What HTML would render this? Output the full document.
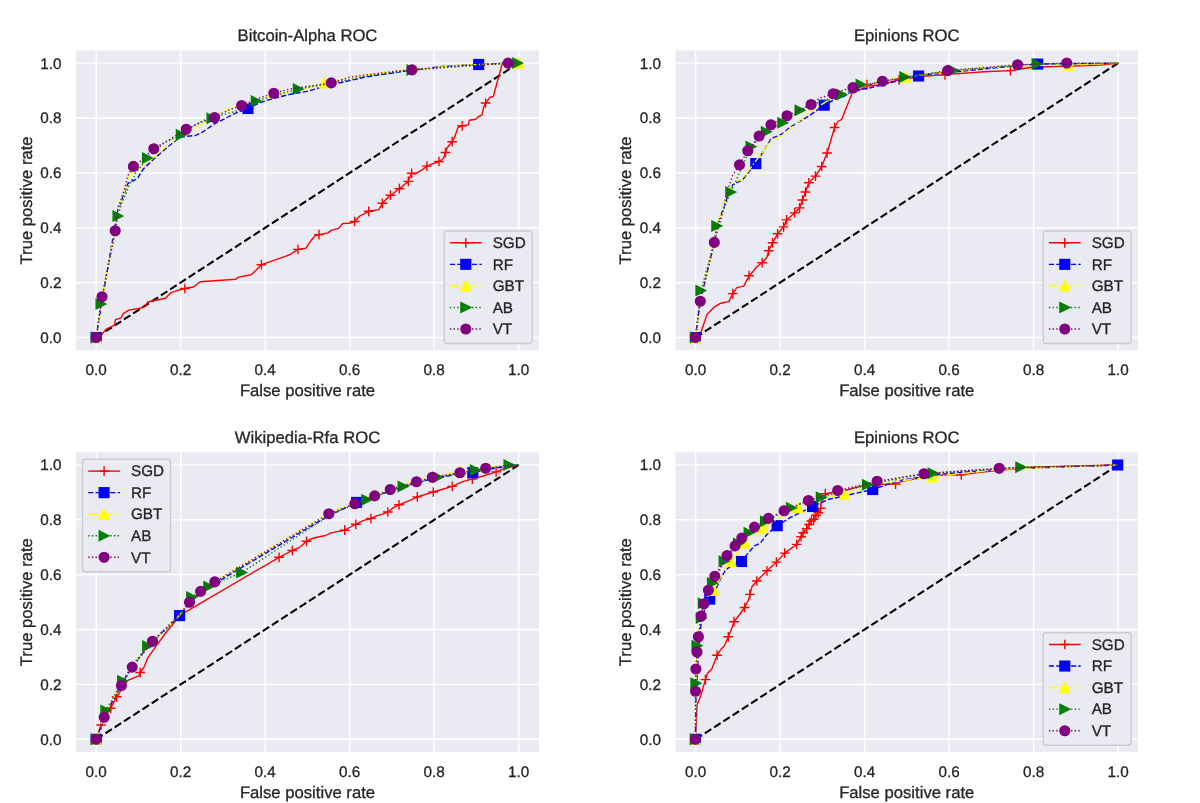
<!DOCTYPE html>
<html><head><meta charset="utf-8"><title>ROC curves</title>
<style>html,body{margin:0;padding:0;background:#fff;width:1200px;height:803px;overflow:hidden}svg{display:block;will-change:transform}text{font-family:"Liberation Sans", sans-serif;text-rendering:geometricPrecision;stroke:#262626;stroke-width:0.3px}</style>
</head><body>
<svg width="1200" height="803" viewBox="0 0 1200 803" font-family='"Liberation Sans", sans-serif'>
<rect width="1200" height="803" fill="#FFFFFF"/>
<defs>
<clipPath id="c1"><rect x="76.0" y="50.5" width="463" height="299.8"/></clipPath>
<clipPath id="c2"><rect x="675.5" y="50.5" width="462.5" height="299.8"/></clipPath>
<clipPath id="c3"><rect x="76.0" y="452.3" width="463" height="299.7"/></clipPath>
<clipPath id="c4"><rect x="675.5" y="452.3" width="462.5" height="299.7"/></clipPath>
</defs>
<rect x="76.0" y="50.5" width="463" height="299.8" fill="#EAEAF2"/>
<path d="M96.2 50.5V350.3M76 337.5H539M180.7 50.5V350.3M76 282.62H539M265.2 50.5V350.3M76 227.74H539M349.7 50.5V350.3M76 172.86H539M434.2 50.5V350.3M76 117.98H539M518.7 50.5V350.3M76 63.1H539" stroke="#FFFFFF" stroke-width="1.39" fill="none"/>
<text x="96.2" y="375.3" font-size="15.28" fill="#262626" text-anchor="middle">0.0</text>
<text x="61.6" y="342.9" font-size="15.28" fill="#262626" text-anchor="end">0.0</text>
<text x="180.7" y="375.3" font-size="15.28" fill="#262626" text-anchor="middle">0.2</text>
<text x="61.6" y="288.02" font-size="15.28" fill="#262626" text-anchor="end">0.2</text>
<text x="265.2" y="375.3" font-size="15.28" fill="#262626" text-anchor="middle">0.4</text>
<text x="61.6" y="233.14" font-size="15.28" fill="#262626" text-anchor="end">0.4</text>
<text x="349.7" y="375.3" font-size="15.28" fill="#262626" text-anchor="middle">0.6</text>
<text x="61.6" y="178.26" font-size="15.28" fill="#262626" text-anchor="end">0.6</text>
<text x="434.2" y="375.3" font-size="15.28" fill="#262626" text-anchor="middle">0.8</text>
<text x="61.6" y="123.38" font-size="15.28" fill="#262626" text-anchor="end">0.8</text>
<text x="518.7" y="375.3" font-size="15.28" fill="#262626" text-anchor="middle">1.0</text>
<text x="61.6" y="68.5" font-size="15.28" fill="#262626" text-anchor="end">1.0</text>
<text x="307.5" y="40.7" font-size="16.67" fill="#262626" text-anchor="middle">Bitcoin-Alpha ROC</text>
<text x="307.5" y="396.3" font-size="16.67" fill="#262626" text-anchor="middle">False positive rate</text>
<text transform="translate(31.8 200.4) rotate(-90)" x="0" y="0" font-size="16.67" fill="#262626" text-anchor="middle">True positive rate</text>
<g clip-path="url(#c1)">
<path d="M96.2 337.5L518.7 63.1" stroke="#000000" stroke-width="2.08" stroke-dasharray="7.7 3.33" fill="none"/>
<path d="M96.2 337.5L101 335.7L105.8 329.4L114.5 325.1L115.5 319.7L121.2 317.8L123.2 313.6L128.9 310.1L142.4 307.8L146.3 305.5L147.6 302L165.5 298.2L170.7 292.8L176.1 290.9L184.8 288.5L193.4 287L200.2 281.8L235.8 279.3L237.7 277.4L251.2 274.7L256 270.3L261.4 264.7L270.4 261.6L285.8 256.2L290 254.5L298 249.4L305.9 248.2L311.2 240.3L315.4 235.5L319 234.6L328.1 232.9L331.3 230.4L338.7 228.3L342.9 223.4L349.3 223.4L354.6 221.5L359.9 216L368.7 211.3L378.9 209.6L382.4 203.3L387.4 198L390.5 195.2L399.4 188.7L408.3 181.4L409.5 178L411.6 173.3L414.8 174.1L422.9 169.3L426.9 166.1L431 164.4L439 161.5L443.5 158.5L445.5 152.5L447 148L452.2 141.7L454.5 137.5L458 127.5L462.2 125.8L468.3 124.9L469.3 120.2L475.8 119.3L478.6 116.5L481.9 115.1L483.7 107.1L485.6 103L490 97.3L493.3 96.5L502.3 63.5L518.7 63.1" stroke="#FF0000" stroke-width="1.39" fill="none" stroke-linejoin="round"/>
<path d="M179.94 288.5H189.66M184.8 283.64V293.36" stroke="#FF0000" stroke-width="1.39" fill="none"/>
<path d="M256.54 264.7H266.26M261.4 259.84V269.56" stroke="#FF0000" stroke-width="1.39" fill="none"/>
<path d="M293.14 249.4H302.86M298 244.54V254.26" stroke="#FF0000" stroke-width="1.39" fill="none"/>
<path d="M314.14 234.6H323.86M319 229.74V239.46" stroke="#FF0000" stroke-width="1.39" fill="none"/>
<path d="M349.74 221.5H359.46M354.6 216.64V226.36" stroke="#FF0000" stroke-width="1.39" fill="none"/>
<path d="M363.84 211.3H373.56M368.7 206.44V216.16" stroke="#FF0000" stroke-width="1.39" fill="none"/>
<path d="M377.54 203.3H387.26M382.4 198.44V208.16" stroke="#FF0000" stroke-width="1.39" fill="none"/>
<path d="M385.64 195.2H395.36M390.5 190.34V200.06" stroke="#FF0000" stroke-width="1.39" fill="none"/>
<path d="M394.54 188.7H404.26M399.4 183.84V193.56" stroke="#FF0000" stroke-width="1.39" fill="none"/>
<path d="M403.44 181.4H413.16M408.3 176.54V186.26" stroke="#FF0000" stroke-width="1.39" fill="none"/>
<path d="M406.74 173.3H416.46M411.6 168.44V178.16" stroke="#FF0000" stroke-width="1.39" fill="none"/>
<path d="M422.04 166.1H431.76M426.9 161.24V170.96" stroke="#FF0000" stroke-width="1.39" fill="none"/>
<path d="M434.14 161.5H443.86M439 156.64V166.36" stroke="#FF0000" stroke-width="1.39" fill="none"/>
<path d="M440.64 152.5H450.36M445.5 147.64V157.36" stroke="#FF0000" stroke-width="1.39" fill="none"/>
<path d="M447.34 141.7H457.06M452.2 136.84V146.56" stroke="#FF0000" stroke-width="1.39" fill="none"/>
<path d="M457.34 125.8H467.06M462.2 120.94V130.66" stroke="#FF0000" stroke-width="1.39" fill="none"/>
<path d="M480.74 103H490.46M485.6 98.14V107.86" stroke="#FF0000" stroke-width="1.39" fill="none"/>
<path d="M96.2 337.5L104 290L111.7 244.6L117.9 209.8L124.1 193.6L127.8 183.6L131 181.1L134.1 180.5L137.8 178L143 169.3L155 158L167 147.5L179 137.8L186.5 136.3L195.5 135.5L203 131.8L215 123.5L227 117.5L236 113L248 108.5L260 102.5L275 98L290 94.3L307 91.4L326.3 85.8L365 77.1L403.7 71.3L442.3 66.4L478.7 64.5L500.3 63.5L518.7 63.1" stroke="#0000FF" stroke-width="1.39" fill="none" stroke-linejoin="round" stroke-dasharray="5.14 2.22"/>
<rect x="91.34" y="332.64" width="9.72" height="9.72" fill="#0000FF" stroke="#0000FF" stroke-width="1.39" stroke-linejoin="miter"/>
<rect x="243.14" y="103.64" width="9.72" height="9.72" fill="#0000FF" stroke="#0000FF" stroke-width="1.39" stroke-linejoin="miter"/>
<rect x="473.84" y="59.64" width="9.72" height="9.72" fill="#0000FF" stroke="#0000FF" stroke-width="1.39" stroke-linejoin="miter"/>
<path d="M96.2 337.5L104 292L111 249.6L119.1 204.8L124.1 192.3L128.5 175.5L131.6 173L137.8 170L144 165L155 156.5L170 143L185 134L200 125L215 116L230 108.5L245 104L260 99.5L275 95L290 91.3L307 88.6L324.4 82.9L365 75.1L412 69.3L461.7 65.1L518.7 63.1" stroke="#FFFF00" stroke-width="1.39" fill="none" stroke-linejoin="round" stroke-dasharray="8.9 2.22 1.39 2.22"/>
<path d="M96.2 332.64L91.34 342.36L101.06 342.36Z" fill="#FFFF00" stroke="#FFFF00" stroke-width="1.39" stroke-linejoin="miter"/>
<path d="M324.4 78.04L319.54 87.76L329.26 87.76Z" fill="#FFFF00" stroke="#FFFF00" stroke-width="1.39" stroke-linejoin="miter"/>
<path d="M518.7 58.24L513.84 67.96L523.56 67.96Z" fill="#FFFF00" stroke="#FFFF00" stroke-width="1.39" stroke-linejoin="miter"/>
<path d="M96.2 337.5L101 304L118 216L121.6 203.5L125.4 194.8L130.3 182.4L134.1 176.8L135.3 173L139.1 168.7L147.5 158L164 143L181.3 134.8L189.5 128L203 120.5L212 118.3L224 114.5L237.5 110.8L256.3 101L275 95.5L298.3 89L330 83.5L365 76.5L412 69.9L461.7 65.3L517.7 63.1" stroke="#008000" stroke-width="1.39" fill="none" stroke-linejoin="round" stroke-dasharray="1.39 2.29"/>
<path d="M101.06 337.5L91.34 332.64L91.34 342.36Z" fill="#008000" stroke="#008000" stroke-width="1.39" stroke-linejoin="miter"/>
<path d="M105.86 304L96.14 299.14L96.14 308.86Z" fill="#008000" stroke="#008000" stroke-width="1.39" stroke-linejoin="miter"/>
<path d="M122.86 216L113.14 211.14L113.14 220.86Z" fill="#008000" stroke="#008000" stroke-width="1.39" stroke-linejoin="miter"/>
<path d="M152.36 158L142.64 153.14L142.64 162.86Z" fill="#008000" stroke="#008000" stroke-width="1.39" stroke-linejoin="miter"/>
<path d="M186.16 134.8L176.44 129.94L176.44 139.66Z" fill="#008000" stroke="#008000" stroke-width="1.39" stroke-linejoin="miter"/>
<path d="M216.86 118.3L207.14 113.44L207.14 123.16Z" fill="#008000" stroke="#008000" stroke-width="1.39" stroke-linejoin="miter"/>
<path d="M261.16 101L251.44 96.14L251.44 105.86Z" fill="#008000" stroke="#008000" stroke-width="1.39" stroke-linejoin="miter"/>
<path d="M303.16 89L293.44 84.14L293.44 93.86Z" fill="#008000" stroke="#008000" stroke-width="1.39" stroke-linejoin="miter"/>
<path d="M416.86 69.9L407.14 65.04L407.14 74.76Z" fill="#008000" stroke="#008000" stroke-width="1.39" stroke-linejoin="miter"/>
<path d="M522.56 63.1L512.84 58.24L512.84 67.96Z" fill="#008000" stroke="#008000" stroke-width="1.39" stroke-linejoin="miter"/>
<path d="M96.2 337.5L102 296.8L115.2 230.8L117.9 207.3L121 199.8L125.4 186.1L127.6 176.2L129.7 172.4L133.4 166.4L139.1 162.5L153.8 148.7L170 139.3L186.2 129.2L200 122.8L214.6 117.5L227 110.8L241.6 105.5L257 98.8L273.8 93.2L290 89L331.2 82.9L350 77.2L373 74L397 71L412 69.9L508.1 63.1L518.7 63.1" stroke="#800080" stroke-width="1.39" fill="none" stroke-linejoin="round" stroke-dasharray="1.39 2.29"/>
<circle cx="96.2" cy="337.5" r="4.86" fill="#800080" stroke="#800080" stroke-width="1.39"/>
<circle cx="102" cy="296.8" r="4.86" fill="#800080" stroke="#800080" stroke-width="1.39"/>
<circle cx="115.2" cy="230.8" r="4.86" fill="#800080" stroke="#800080" stroke-width="1.39"/>
<circle cx="133.4" cy="166.4" r="4.86" fill="#800080" stroke="#800080" stroke-width="1.39"/>
<circle cx="153.8" cy="148.7" r="4.86" fill="#800080" stroke="#800080" stroke-width="1.39"/>
<circle cx="186.2" cy="129.2" r="4.86" fill="#800080" stroke="#800080" stroke-width="1.39"/>
<circle cx="214.6" cy="117.5" r="4.86" fill="#800080" stroke="#800080" stroke-width="1.39"/>
<circle cx="241.6" cy="105.5" r="4.86" fill="#800080" stroke="#800080" stroke-width="1.39"/>
<circle cx="273.8" cy="93.2" r="4.86" fill="#800080" stroke="#800080" stroke-width="1.39"/>
<circle cx="331.2" cy="82.9" r="4.86" fill="#800080" stroke="#800080" stroke-width="1.39"/>
<circle cx="412" cy="69.9" r="4.86" fill="#800080" stroke="#800080" stroke-width="1.39"/>
<circle cx="508.1" cy="63.1" r="4.86" fill="#800080" stroke="#800080" stroke-width="1.39"/>
</g>
<rect x="444.2" y="231" width="88" height="112.5" rx="3.06" ry="3.06" fill="#EAEAF2" fill-opacity="1" stroke="#CCCCCC" stroke-width="1.39"/>
<path d="M449.9 242.8H481.7" stroke="#FF0000" stroke-width="1.39" fill="none"/>
<path d="M460.94 242.8H470.66M465.8 237.94V247.66" stroke="#FF0000" stroke-width="1.39" fill="none"/>
<text x="492.7" y="248.05" font-size="15.28" fill="#262626">SGD</text>
<path d="M449.9 264.35H481.7" stroke="#0000FF" stroke-width="1.39" fill="none" stroke-dasharray="5.14 2.22"/>
<rect x="460.94" y="259.49" width="9.72" height="9.72" fill="#0000FF" stroke="#0000FF" stroke-width="1.39" stroke-linejoin="miter"/>
<text x="492.7" y="269.6" font-size="15.28" fill="#262626">RF</text>
<path d="M449.9 285.9H481.7" stroke="#FFFF00" stroke-width="1.39" fill="none" stroke-dasharray="8.9 2.22 1.39 2.22"/>
<path d="M465.8 281.04L460.94 290.76L470.66 290.76Z" fill="#FFFF00" stroke="#FFFF00" stroke-width="1.39" stroke-linejoin="miter"/>
<text x="492.7" y="291.15" font-size="15.28" fill="#262626">GBT</text>
<path d="M449.9 307.45H481.7" stroke="#008000" stroke-width="1.39" fill="none" stroke-dasharray="1.39 2.29"/>
<path d="M470.66 307.45L460.94 302.59L460.94 312.31Z" fill="#008000" stroke="#008000" stroke-width="1.39" stroke-linejoin="miter"/>
<text x="492.7" y="312.7" font-size="15.28" fill="#262626">AB</text>
<path d="M449.9 329H481.7" stroke="#800080" stroke-width="1.39" fill="none" stroke-dasharray="1.39 2.29"/>
<circle cx="465.8" cy="329" r="4.86" fill="#800080" stroke="#800080" stroke-width="1.39"/>
<text x="492.7" y="334.25" font-size="15.28" fill="#262626">VT</text>
<rect x="675.5" y="50.5" width="462.5" height="299.8" fill="#EAEAF2"/>
<path d="M695.6 50.5V350.3M675.5 337.5H1138M780.1 50.5V350.3M675.5 282.62H1138M864.6 50.5V350.3M675.5 227.74H1138M949.1 50.5V350.3M675.5 172.86H1138M1033.6 50.5V350.3M675.5 117.98H1138M1118.1 50.5V350.3M675.5 63.1H1138" stroke="#FFFFFF" stroke-width="1.39" fill="none"/>
<text x="695.6" y="375.3" font-size="15.28" fill="#262626" text-anchor="middle">0.0</text>
<text x="661.1" y="342.9" font-size="15.28" fill="#262626" text-anchor="end">0.0</text>
<text x="780.1" y="375.3" font-size="15.28" fill="#262626" text-anchor="middle">0.2</text>
<text x="661.1" y="288.02" font-size="15.28" fill="#262626" text-anchor="end">0.2</text>
<text x="864.6" y="375.3" font-size="15.28" fill="#262626" text-anchor="middle">0.4</text>
<text x="661.1" y="233.14" font-size="15.28" fill="#262626" text-anchor="end">0.4</text>
<text x="949.1" y="375.3" font-size="15.28" fill="#262626" text-anchor="middle">0.6</text>
<text x="661.1" y="178.26" font-size="15.28" fill="#262626" text-anchor="end">0.6</text>
<text x="1033.6" y="375.3" font-size="15.28" fill="#262626" text-anchor="middle">0.8</text>
<text x="661.1" y="123.38" font-size="15.28" fill="#262626" text-anchor="end">0.8</text>
<text x="1118.1" y="375.3" font-size="15.28" fill="#262626" text-anchor="middle">1.0</text>
<text x="661.1" y="68.5" font-size="15.28" fill="#262626" text-anchor="end">1.0</text>
<text x="906.75" y="40.7" font-size="16.67" fill="#262626" text-anchor="middle">Epinions ROC</text>
<text x="906.75" y="396.3" font-size="16.67" fill="#262626" text-anchor="middle">False positive rate</text>
<text transform="translate(631.3 200.4) rotate(-90)" x="0" y="0" font-size="16.67" fill="#262626" text-anchor="middle">True positive rate</text>
<g clip-path="url(#c2)">
<path d="M695.6 337.5L1118.1 63.1" stroke="#000000" stroke-width="2.08" stroke-dasharray="7.7 3.33" fill="none"/>
<path d="M695.4 337.5L700.9 332.5L706.9 314.6L714.9 306.6L720.8 303.2L728.8 301.6L732.8 293.6L736.8 287.6L743.8 286.1L749.1 275.7L753.7 270.7L756.7 266.7L762.1 262.7L766.7 257.8L768.7 250.8L772.6 242.8L777.6 233.8L783.6 226.9L786.6 219.9L794.6 212.9L799.6 207.9L802.5 200L805.5 192L808.8 182.8L815.5 176.1L821.7 166.5L827.1 153L834.6 127.5L837.9 121.5L841.7 119.3L852.1 93.2L855.1 92.4L866.9 86L878.3 85L899.1 79.9L923.3 76.4L945 74.6L984 71.7L1010.4 70.6L1031.7 67.3L1096.7 65.2L1118.4 63.2" stroke="#FF0000" stroke-width="1.39" fill="none" stroke-linejoin="round"/>
<path d="M727.94 293.6H737.66M732.8 288.74V298.46" stroke="#FF0000" stroke-width="1.39" fill="none"/>
<path d="M744.24 275.7H753.96M749.1 270.84V280.56" stroke="#FF0000" stroke-width="1.39" fill="none"/>
<path d="M757.24 262.7H766.96M762.1 257.84V267.56" stroke="#FF0000" stroke-width="1.39" fill="none"/>
<path d="M763.84 250.8H773.56M768.7 245.94V255.66" stroke="#FF0000" stroke-width="1.39" fill="none"/>
<path d="M767.74 242.8H777.46M772.6 237.94V247.66" stroke="#FF0000" stroke-width="1.39" fill="none"/>
<path d="M772.74 233.8H782.46M777.6 228.94V238.66" stroke="#FF0000" stroke-width="1.39" fill="none"/>
<path d="M778.74 226.9H788.46M783.6 222.04V231.76" stroke="#FF0000" stroke-width="1.39" fill="none"/>
<path d="M781.74 219.9H791.46M786.6 215.04V224.76" stroke="#FF0000" stroke-width="1.39" fill="none"/>
<path d="M789.74 212.9H799.46M794.6 208.04V217.76" stroke="#FF0000" stroke-width="1.39" fill="none"/>
<path d="M794.74 207.9H804.46M799.6 203.04V212.76" stroke="#FF0000" stroke-width="1.39" fill="none"/>
<path d="M797.64 200H807.36M802.5 195.14V204.86" stroke="#FF0000" stroke-width="1.39" fill="none"/>
<path d="M800.64 192H810.36M805.5 187.14V196.86" stroke="#FF0000" stroke-width="1.39" fill="none"/>
<path d="M803.94 182.8H813.66M808.8 177.94V187.66" stroke="#FF0000" stroke-width="1.39" fill="none"/>
<path d="M810.64 176.1H820.36M815.5 171.24V180.96" stroke="#FF0000" stroke-width="1.39" fill="none"/>
<path d="M816.84 166.5H826.56M821.7 161.64V171.36" stroke="#FF0000" stroke-width="1.39" fill="none"/>
<path d="M822.24 153H831.96M827.1 148.14V157.86" stroke="#FF0000" stroke-width="1.39" fill="none"/>
<path d="M829.74 127.5H839.46M834.6 122.64V132.36" stroke="#FF0000" stroke-width="1.39" fill="none"/>
<path d="M862.04 84.6H871.76M866.9 79.74V89.46" stroke="#FF0000" stroke-width="1.39" fill="none"/>
<path d="M894.24 79.9H903.96M899.1 75.04V84.76" stroke="#FF0000" stroke-width="1.39" fill="none"/>
<path d="M940.14 74.9H949.86M945 70.04V79.76" stroke="#FF0000" stroke-width="1.39" fill="none"/>
<path d="M1005.54 70.6H1015.26M1010.4 65.74V75.46" stroke="#FF0000" stroke-width="1.39" fill="none"/>
<path d="M695.4 337.5L700.3 301L714.3 242.4L716.8 225.9L727 198.2L732.7 184.7L742.4 179.9L755.8 163.6L771.2 138.5L780.9 134.7L790.5 127L809.7 115.4L824.2 105.2L832.8 100.4L844.4 96.2L854 90.4L867.5 88.5L886.7 83.7L906 78.9L918.6 76L945 72.8L1010 66.3L1037.7 64.1L1118.4 63.2" stroke="#0000FF" stroke-width="1.39" fill="none" stroke-linejoin="round" stroke-dasharray="5.14 2.22"/>
<rect x="690.54" y="332.64" width="9.72" height="9.72" fill="#0000FF" stroke="#0000FF" stroke-width="1.39" stroke-linejoin="miter"/>
<rect x="750.94" y="158.74" width="9.72" height="9.72" fill="#0000FF" stroke="#0000FF" stroke-width="1.39" stroke-linejoin="miter"/>
<rect x="819.34" y="100.34" width="9.72" height="9.72" fill="#0000FF" stroke="#0000FF" stroke-width="1.39" stroke-linejoin="miter"/>
<rect x="913.74" y="71.14" width="9.72" height="9.72" fill="#0000FF" stroke="#0000FF" stroke-width="1.39" stroke-linejoin="miter"/>
<rect x="1032.84" y="59.24" width="9.72" height="9.72" fill="#0000FF" stroke="#0000FF" stroke-width="1.39" stroke-linejoin="miter"/>
<path d="M695.4 337.5L700.3 301L714.3 242.4L716.8 225.9L726 198.2L732.7 182.8L742.4 179L753.9 163.6L771.2 140.5L780.9 135.7L792.4 127L809.7 111.6L829 100L848.2 90.4L867.5 84.6L880 80.3L905.6 77.1L945 71.7L1010 65.6L1068.5 65.2L1118.4 63.2" stroke="#FFFF00" stroke-width="1.39" fill="none" stroke-linejoin="round" stroke-dasharray="8.9 2.22 1.39 2.22"/>
<path d="M695.4 332.64L690.54 342.36L700.26 342.36Z" fill="#FFFF00" stroke="#FFFF00" stroke-width="1.39" stroke-linejoin="miter"/>
<path d="M905.6 72.24L900.74 81.96L910.46 81.96Z" fill="#FFFF00" stroke="#FFFF00" stroke-width="1.39" stroke-linejoin="miter"/>
<path d="M1068.5 60.34L1063.64 70.06L1073.36 70.06Z" fill="#FFFF00" stroke="#FFFF00" stroke-width="1.39" stroke-linejoin="miter"/>
<path d="M695.4 337.5L700.9 290.6L714.3 242.4L716.8 225.9L730.8 192.1L738.5 175.1L746.2 157.8L751 146.6L759.7 138.5L766.4 131.8L775.1 127L782.8 122.8L790.5 117.4L800.1 110.3L813.6 103.9L827.1 99.7L841.7 94.6L852.1 90.4L861.1 85.5L877.1 82.7L904.9 77.1L953.7 70.6L1037.1 64.1L1118.4 63.2" stroke="#008000" stroke-width="1.39" fill="none" stroke-linejoin="round" stroke-dasharray="1.39 2.29"/>
<path d="M700.26 337.5L690.54 332.64L690.54 342.36Z" fill="#008000" stroke="#008000" stroke-width="1.39" stroke-linejoin="miter"/>
<path d="M705.76 290.6L696.04 285.74L696.04 295.46Z" fill="#008000" stroke="#008000" stroke-width="1.39" stroke-linejoin="miter"/>
<path d="M721.66 225.9L711.94 221.04L711.94 230.76Z" fill="#008000" stroke="#008000" stroke-width="1.39" stroke-linejoin="miter"/>
<path d="M735.66 192.1L725.94 187.24L725.94 196.96Z" fill="#008000" stroke="#008000" stroke-width="1.39" stroke-linejoin="miter"/>
<path d="M755.86 146.6L746.14 141.74L746.14 151.46Z" fill="#008000" stroke="#008000" stroke-width="1.39" stroke-linejoin="miter"/>
<path d="M771.26 131.8L761.54 126.94L761.54 136.66Z" fill="#008000" stroke="#008000" stroke-width="1.39" stroke-linejoin="miter"/>
<path d="M787.66 122.8L777.94 117.94L777.94 127.66Z" fill="#008000" stroke="#008000" stroke-width="1.39" stroke-linejoin="miter"/>
<path d="M804.96 110.3L795.24 105.44L795.24 115.16Z" fill="#008000" stroke="#008000" stroke-width="1.39" stroke-linejoin="miter"/>
<path d="M846.56 94.6L836.84 89.74L836.84 99.46Z" fill="#008000" stroke="#008000" stroke-width="1.39" stroke-linejoin="miter"/>
<path d="M865.96 84.6L856.24 79.74L856.24 89.46Z" fill="#008000" stroke="#008000" stroke-width="1.39" stroke-linejoin="miter"/>
<path d="M909.76 77.1L900.04 72.24L900.04 81.96Z" fill="#008000" stroke="#008000" stroke-width="1.39" stroke-linejoin="miter"/>
<path d="M958.56 70.6L948.84 65.74L948.84 75.46Z" fill="#008000" stroke="#008000" stroke-width="1.39" stroke-linejoin="miter"/>
<path d="M1041.96 64.1L1032.24 59.24L1032.24 68.96Z" fill="#008000" stroke="#008000" stroke-width="1.39" stroke-linejoin="miter"/>
<path d="M695.4 337.5L700.3 301.2L714.3 242.4L722 215L727 192.4L732.7 175.1L739.5 164.9L747.8 150.7L759.1 136L770.9 124.7L787 115.8L811.1 104.5L819.4 98.1L833.2 93.9L842.5 90.4L853.1 87.5L867.5 84.6L882.4 81.2L947.6 70.6L1017.6 64.7L1066.8 63L1118.4 63.2" stroke="#800080" stroke-width="1.39" fill="none" stroke-linejoin="round" stroke-dasharray="1.39 2.29"/>
<circle cx="695.4" cy="337.5" r="4.86" fill="#800080" stroke="#800080" stroke-width="1.39"/>
<circle cx="700.3" cy="301.2" r="4.86" fill="#800080" stroke="#800080" stroke-width="1.39"/>
<circle cx="714.3" cy="242.4" r="4.86" fill="#800080" stroke="#800080" stroke-width="1.39"/>
<circle cx="739.5" cy="164.9" r="4.86" fill="#800080" stroke="#800080" stroke-width="1.39"/>
<circle cx="747.8" cy="150.7" r="4.86" fill="#800080" stroke="#800080" stroke-width="1.39"/>
<circle cx="759.1" cy="136" r="4.86" fill="#800080" stroke="#800080" stroke-width="1.39"/>
<circle cx="770.9" cy="124.7" r="4.86" fill="#800080" stroke="#800080" stroke-width="1.39"/>
<circle cx="787" cy="115.8" r="4.86" fill="#800080" stroke="#800080" stroke-width="1.39"/>
<circle cx="811.1" cy="104.5" r="4.86" fill="#800080" stroke="#800080" stroke-width="1.39"/>
<circle cx="833.2" cy="93.7" r="4.86" fill="#800080" stroke="#800080" stroke-width="1.39"/>
<circle cx="852.9" cy="87.6" r="4.86" fill="#800080" stroke="#800080" stroke-width="1.39"/>
<circle cx="882.4" cy="81.2" r="4.86" fill="#800080" stroke="#800080" stroke-width="1.39"/>
<circle cx="947.6" cy="70.6" r="4.86" fill="#800080" stroke="#800080" stroke-width="1.39"/>
<circle cx="1017.6" cy="64.7" r="4.86" fill="#800080" stroke="#800080" stroke-width="1.39"/>
<circle cx="1066.8" cy="63" r="4.86" fill="#800080" stroke="#800080" stroke-width="1.39"/>
</g>
<rect x="1043.2" y="231" width="88" height="112.5" rx="3.06" ry="3.06" fill="#EAEAF2" fill-opacity="1" stroke="#CCCCCC" stroke-width="1.39"/>
<path d="M1048.9 242.8H1080.7" stroke="#FF0000" stroke-width="1.39" fill="none"/>
<path d="M1059.94 242.8H1069.66M1064.8 237.94V247.66" stroke="#FF0000" stroke-width="1.39" fill="none"/>
<text x="1091.7" y="248.05" font-size="15.28" fill="#262626">SGD</text>
<path d="M1048.9 264.35H1080.7" stroke="#0000FF" stroke-width="1.39" fill="none" stroke-dasharray="5.14 2.22"/>
<rect x="1059.94" y="259.49" width="9.72" height="9.72" fill="#0000FF" stroke="#0000FF" stroke-width="1.39" stroke-linejoin="miter"/>
<text x="1091.7" y="269.6" font-size="15.28" fill="#262626">RF</text>
<path d="M1048.9 285.9H1080.7" stroke="#FFFF00" stroke-width="1.39" fill="none" stroke-dasharray="8.9 2.22 1.39 2.22"/>
<path d="M1064.8 281.04L1059.94 290.76L1069.66 290.76Z" fill="#FFFF00" stroke="#FFFF00" stroke-width="1.39" stroke-linejoin="miter"/>
<text x="1091.7" y="291.15" font-size="15.28" fill="#262626">GBT</text>
<path d="M1048.9 307.45H1080.7" stroke="#008000" stroke-width="1.39" fill="none" stroke-dasharray="1.39 2.29"/>
<path d="M1069.66 307.45L1059.94 302.59L1059.94 312.31Z" fill="#008000" stroke="#008000" stroke-width="1.39" stroke-linejoin="miter"/>
<text x="1091.7" y="312.7" font-size="15.28" fill="#262626">AB</text>
<path d="M1048.9 329H1080.7" stroke="#800080" stroke-width="1.39" fill="none" stroke-dasharray="1.39 2.29"/>
<circle cx="1064.8" cy="329" r="4.86" fill="#800080" stroke="#800080" stroke-width="1.39"/>
<text x="1091.7" y="334.25" font-size="15.28" fill="#262626">VT</text>
<rect x="76.0" y="452.3" width="463" height="299.7" fill="#EAEAF2"/>
<path d="M96.2 452.3V752M76 739.3H539M180.7 452.3V752M76 684.42H539M265.2 452.3V752M76 629.54H539M349.7 452.3V752M76 574.66H539M434.2 452.3V752M76 519.78H539M518.7 452.3V752M76 464.9H539" stroke="#FFFFFF" stroke-width="1.39" fill="none"/>
<text x="96.2" y="777" font-size="15.28" fill="#262626" text-anchor="middle">0.0</text>
<text x="61.6" y="744.7" font-size="15.28" fill="#262626" text-anchor="end">0.0</text>
<text x="180.7" y="777" font-size="15.28" fill="#262626" text-anchor="middle">0.2</text>
<text x="61.6" y="689.82" font-size="15.28" fill="#262626" text-anchor="end">0.2</text>
<text x="265.2" y="777" font-size="15.28" fill="#262626" text-anchor="middle">0.4</text>
<text x="61.6" y="634.94" font-size="15.28" fill="#262626" text-anchor="end">0.4</text>
<text x="349.7" y="777" font-size="15.28" fill="#262626" text-anchor="middle">0.6</text>
<text x="61.6" y="580.06" font-size="15.28" fill="#262626" text-anchor="end">0.6</text>
<text x="434.2" y="777" font-size="15.28" fill="#262626" text-anchor="middle">0.8</text>
<text x="61.6" y="525.18" font-size="15.28" fill="#262626" text-anchor="end">0.8</text>
<text x="518.7" y="777" font-size="15.28" fill="#262626" text-anchor="middle">1.0</text>
<text x="61.6" y="470.3" font-size="15.28" fill="#262626" text-anchor="end">1.0</text>
<text x="307.5" y="442.5" font-size="16.67" fill="#262626" text-anchor="middle">Wikipedia-Rfa ROC</text>
<text x="307.5" y="798" font-size="16.67" fill="#262626" text-anchor="middle">False positive rate</text>
<text transform="translate(31.8 602.15) rotate(-90)" x="0" y="0" font-size="16.67" fill="#262626" text-anchor="middle">True positive rate</text>
<g clip-path="url(#c3)">
<path d="M96.2 739.3L518.7 464.9" stroke="#000000" stroke-width="2.08" stroke-dasharray="7.7 3.33" fill="none"/>
<path d="M96.2 739.3L99.9 728.6L101.1 725L109.5 709.4L110.7 708.3L116.7 696.8L119 693.9L121.6 688.5L127.9 680.4L138.8 675.9L140.2 672.5L144.2 666.8L147.8 657.8L156.8 645.2L165.9 632.5L174.9 621.7L179.8 615.4L279.1 557.3L292.3 550.5L299.6 547.3L306.6 541.3L311.4 538.7L319.2 536.8L325.8 535.5L331 532.9L337.5 531.6L344.7 530.2L350.6 527L355.8 524.3L363.7 520.4L370.9 518.5L376.7 515.9L383.3 513.9L387.8 512L393.8 507.4L399 504.8L405.5 502.2L410.7 500.2L417.3 496.9L433.3 492L441.8 489.5L452.2 486.4L462.5 481.7L472.3 479.1L483.2 476L496.1 471.9L503.8 468.8L518.6 464.9" stroke="#FF0000" stroke-width="1.39" fill="none" stroke-linejoin="round"/>
<path d="M96.24 725H105.96M101.1 720.14V729.86" stroke="#FF0000" stroke-width="1.39" fill="none"/>
<path d="M105.84 708.3H115.56M110.7 703.44V713.16" stroke="#FF0000" stroke-width="1.39" fill="none"/>
<path d="M111.84 696.8H121.56M116.7 691.94V701.66" stroke="#FF0000" stroke-width="1.39" fill="none"/>
<path d="M135.34 672.5H145.06M140.2 667.64V677.36" stroke="#FF0000" stroke-width="1.39" fill="none"/>
<path d="M274.24 557.3H283.96M279.1 552.44V562.16" stroke="#FF0000" stroke-width="1.39" fill="none"/>
<path d="M287.44 550.5H297.16M292.3 545.64V555.36" stroke="#FF0000" stroke-width="1.39" fill="none"/>
<path d="M301.74 541.3H311.46M306.6 536.44V546.16" stroke="#FF0000" stroke-width="1.39" fill="none"/>
<path d="M339.84 530.2H349.56M344.7 525.34V535.06" stroke="#FF0000" stroke-width="1.39" fill="none"/>
<path d="M350.94 524.3H360.66M355.8 519.44V529.16" stroke="#FF0000" stroke-width="1.39" fill="none"/>
<path d="M366.04 518.5H375.76M370.9 513.64V523.36" stroke="#FF0000" stroke-width="1.39" fill="none"/>
<path d="M382.94 512H392.66M387.8 507.14V516.86" stroke="#FF0000" stroke-width="1.39" fill="none"/>
<path d="M394.14 504.8H403.86M399 499.94V509.66" stroke="#FF0000" stroke-width="1.39" fill="none"/>
<path d="M412.44 496.9H422.16M417.3 492.04V501.76" stroke="#FF0000" stroke-width="1.39" fill="none"/>
<path d="M428.44 492H438.16M433.3 487.14V496.86" stroke="#FF0000" stroke-width="1.39" fill="none"/>
<path d="M447.34 486.4H457.06M452.2 481.54V491.26" stroke="#FF0000" stroke-width="1.39" fill="none"/>
<path d="M467.44 479.1H477.16M472.3 474.24V483.96" stroke="#FF0000" stroke-width="1.39" fill="none"/>
<path d="M491.24 471.9H500.96M496.1 467.04V476.76" stroke="#FF0000" stroke-width="1.39" fill="none"/>
<path d="M96.2 739.3L104.5 717L121.5 684L133 665.5L150 644L179.6 615.6L189.6 603.5L200.6 593L214.8 583.5L329 515.5L356.6 502.4L375 496.5L390 491L416.5 483L432.3 478.5L460 474L472.8 472.7L486 469.5L518.6 464.9" stroke="#0000FF" stroke-width="1.39" fill="none" stroke-linejoin="round" stroke-dasharray="5.14 2.22"/>
<rect x="91.34" y="734.44" width="9.72" height="9.72" fill="#0000FF" stroke="#0000FF" stroke-width="1.39" stroke-linejoin="miter"/>
<rect x="174.74" y="610.74" width="9.72" height="9.72" fill="#0000FF" stroke="#0000FF" stroke-width="1.39" stroke-linejoin="miter"/>
<rect x="351.74" y="497.54" width="9.72" height="9.72" fill="#0000FF" stroke="#0000FF" stroke-width="1.39" stroke-linejoin="miter"/>
<rect x="467.94" y="467.84" width="9.72" height="9.72" fill="#0000FF" stroke="#0000FF" stroke-width="1.39" stroke-linejoin="miter"/>
<path d="M96.2 739.3L104.2 716L121.4 683L132.5 664.5L151 642.5L179.6 615.2L189.6 602L200.6 591.5L214.8 581.5L328.9 513.5L354.8 503L374.7 495L390.2 488.8L416.5 480.8L432.3 476.5L459.9 471.5L485.7 467.5L518.6 464.9" stroke="#FFFF00" stroke-width="1.39" fill="none" stroke-linejoin="round" stroke-dasharray="8.9 2.22 1.39 2.22"/>
<path d="M96.2 734.44L91.34 744.16L101.06 744.16Z" fill="#FFFF00" stroke="#FFFF00" stroke-width="1.39" stroke-linejoin="miter"/>
<path d="M459.9 466.34L455.04 476.06L464.76 476.06Z" fill="#FFFF00" stroke="#FFFF00" stroke-width="1.39" stroke-linejoin="miter"/>
<path d="M96.2 739.3L105.9 710.6L122.6 680.8L134 663L147.7 646.1L179.6 617L191.7 597.1L208.8 586.6L241.7 572.5L329.5 515.5L356 503.5L366.9 499.8L403.1 486.4L438 477.3L475.4 470.1L509 464.9L518.6 464.9" stroke="#008000" stroke-width="1.39" fill="none" stroke-linejoin="round" stroke-dasharray="1.39 2.29"/>
<path d="M101.06 739.3L91.34 734.44L91.34 744.16Z" fill="#008000" stroke="#008000" stroke-width="1.39" stroke-linejoin="miter"/>
<path d="M110.76 710.6L101.04 705.74L101.04 715.46Z" fill="#008000" stroke="#008000" stroke-width="1.39" stroke-linejoin="miter"/>
<path d="M127.46 680.8L117.74 675.94L117.74 685.66Z" fill="#008000" stroke="#008000" stroke-width="1.39" stroke-linejoin="miter"/>
<path d="M152.56 646.1L142.84 641.24L142.84 650.96Z" fill="#008000" stroke="#008000" stroke-width="1.39" stroke-linejoin="miter"/>
<path d="M196.56 597.1L186.84 592.24L186.84 601.96Z" fill="#008000" stroke="#008000" stroke-width="1.39" stroke-linejoin="miter"/>
<path d="M213.66 586.6L203.94 581.74L203.94 591.46Z" fill="#008000" stroke="#008000" stroke-width="1.39" stroke-linejoin="miter"/>
<path d="M246.56 572.5L236.84 567.64L236.84 577.36Z" fill="#008000" stroke="#008000" stroke-width="1.39" stroke-linejoin="miter"/>
<path d="M371.76 499.8L362.04 494.94L362.04 504.66Z" fill="#008000" stroke="#008000" stroke-width="1.39" stroke-linejoin="miter"/>
<path d="M407.96 486.4L398.24 481.54L398.24 491.26Z" fill="#008000" stroke="#008000" stroke-width="1.39" stroke-linejoin="miter"/>
<path d="M442.86 477.3L433.14 472.44L433.14 482.16Z" fill="#008000" stroke="#008000" stroke-width="1.39" stroke-linejoin="miter"/>
<path d="M480.26 470.1L470.54 465.24L470.54 474.96Z" fill="#008000" stroke="#008000" stroke-width="1.39" stroke-linejoin="miter"/>
<path d="M513.86 464.9L504.14 460.04L504.14 469.76Z" fill="#008000" stroke="#008000" stroke-width="1.39" stroke-linejoin="miter"/>
<path d="M96.2 739.3L104.2 717.3L121.4 685.5L132.2 667.1L152.5 641.3L179.6 614.5L189.5 602.3L200.6 591.4L214.8 581.9L328.8 513.8L354.8 503.7L374.7 495.9L390.2 489.5L416.5 481.7L432.3 477.3L459.9 472.7L485.7 468.3L518.6 464.9" stroke="#800080" stroke-width="1.39" fill="none" stroke-linejoin="round" stroke-dasharray="1.39 2.29"/>
<circle cx="96.2" cy="739.3" r="4.86" fill="#800080" stroke="#800080" stroke-width="1.39"/>
<circle cx="104.2" cy="717.3" r="4.86" fill="#800080" stroke="#800080" stroke-width="1.39"/>
<circle cx="121.4" cy="685.5" r="4.86" fill="#800080" stroke="#800080" stroke-width="1.39"/>
<circle cx="132.2" cy="667.1" r="4.86" fill="#800080" stroke="#800080" stroke-width="1.39"/>
<circle cx="152.5" cy="641.3" r="4.86" fill="#800080" stroke="#800080" stroke-width="1.39"/>
<circle cx="189.5" cy="602.3" r="4.86" fill="#800080" stroke="#800080" stroke-width="1.39"/>
<circle cx="200.6" cy="591.4" r="4.86" fill="#800080" stroke="#800080" stroke-width="1.39"/>
<circle cx="214.8" cy="581.9" r="4.86" fill="#800080" stroke="#800080" stroke-width="1.39"/>
<circle cx="328.8" cy="513.8" r="4.86" fill="#800080" stroke="#800080" stroke-width="1.39"/>
<circle cx="354.8" cy="503.7" r="4.86" fill="#800080" stroke="#800080" stroke-width="1.39"/>
<circle cx="374.7" cy="495.9" r="4.86" fill="#800080" stroke="#800080" stroke-width="1.39"/>
<circle cx="390.2" cy="489.5" r="4.86" fill="#800080" stroke="#800080" stroke-width="1.39"/>
<circle cx="416.5" cy="481.7" r="4.86" fill="#800080" stroke="#800080" stroke-width="1.39"/>
<circle cx="432.3" cy="477.3" r="4.86" fill="#800080" stroke="#800080" stroke-width="1.39"/>
<circle cx="459.9" cy="472.7" r="4.86" fill="#800080" stroke="#800080" stroke-width="1.39"/>
<circle cx="485.7" cy="468.3" r="4.86" fill="#800080" stroke="#800080" stroke-width="1.39"/>
</g>
<rect x="82.5" y="459.3" width="88" height="112.5" rx="3.06" ry="3.06" fill="#EAEAF2" fill-opacity="1" stroke="#CCCCCC" stroke-width="1.39"/>
<path d="M88.2 471.1H120" stroke="#FF0000" stroke-width="1.39" fill="none"/>
<path d="M99.24 471.1H108.96M104.1 466.24V475.96" stroke="#FF0000" stroke-width="1.39" fill="none"/>
<text x="131" y="476.35" font-size="15.28" fill="#262626">SGD</text>
<path d="M88.2 492.65H120" stroke="#0000FF" stroke-width="1.39" fill="none" stroke-dasharray="5.14 2.22"/>
<rect x="99.24" y="487.79" width="9.72" height="9.72" fill="#0000FF" stroke="#0000FF" stroke-width="1.39" stroke-linejoin="miter"/>
<text x="131" y="497.9" font-size="15.28" fill="#262626">RF</text>
<path d="M88.2 514.2H120" stroke="#FFFF00" stroke-width="1.39" fill="none" stroke-dasharray="8.9 2.22 1.39 2.22"/>
<path d="M104.1 509.34L99.24 519.06L108.96 519.06Z" fill="#FFFF00" stroke="#FFFF00" stroke-width="1.39" stroke-linejoin="miter"/>
<text x="131" y="519.45" font-size="15.28" fill="#262626">GBT</text>
<path d="M88.2 535.75H120" stroke="#008000" stroke-width="1.39" fill="none" stroke-dasharray="1.39 2.29"/>
<path d="M108.96 535.75L99.24 530.89L99.24 540.61Z" fill="#008000" stroke="#008000" stroke-width="1.39" stroke-linejoin="miter"/>
<text x="131" y="541" font-size="15.28" fill="#262626">AB</text>
<path d="M88.2 557.3H120" stroke="#800080" stroke-width="1.39" fill="none" stroke-dasharray="1.39 2.29"/>
<circle cx="104.1" cy="557.3" r="4.86" fill="#800080" stroke="#800080" stroke-width="1.39"/>
<text x="131" y="562.55" font-size="15.28" fill="#262626">VT</text>
<rect x="675.5" y="452.3" width="462.5" height="299.7" fill="#EAEAF2"/>
<path d="M695.6 452.3V752M675.5 739.3H1138M780.1 452.3V752M675.5 684.42H1138M864.6 452.3V752M675.5 629.54H1138M949.1 452.3V752M675.5 574.66H1138M1033.6 452.3V752M675.5 519.78H1138M1118.1 452.3V752M675.5 464.9H1138" stroke="#FFFFFF" stroke-width="1.39" fill="none"/>
<text x="695.6" y="777" font-size="15.28" fill="#262626" text-anchor="middle">0.0</text>
<text x="661.1" y="744.7" font-size="15.28" fill="#262626" text-anchor="end">0.0</text>
<text x="780.1" y="777" font-size="15.28" fill="#262626" text-anchor="middle">0.2</text>
<text x="661.1" y="689.82" font-size="15.28" fill="#262626" text-anchor="end">0.2</text>
<text x="864.6" y="777" font-size="15.28" fill="#262626" text-anchor="middle">0.4</text>
<text x="661.1" y="634.94" font-size="15.28" fill="#262626" text-anchor="end">0.4</text>
<text x="949.1" y="777" font-size="15.28" fill="#262626" text-anchor="middle">0.6</text>
<text x="661.1" y="580.06" font-size="15.28" fill="#262626" text-anchor="end">0.6</text>
<text x="1033.6" y="777" font-size="15.28" fill="#262626" text-anchor="middle">0.8</text>
<text x="661.1" y="525.18" font-size="15.28" fill="#262626" text-anchor="end">0.8</text>
<text x="1118.1" y="777" font-size="15.28" fill="#262626" text-anchor="middle">1.0</text>
<text x="661.1" y="470.3" font-size="15.28" fill="#262626" text-anchor="end">1.0</text>
<text x="906.75" y="442.5" font-size="16.67" fill="#262626" text-anchor="middle">Epinions ROC</text>
<text x="906.75" y="798" font-size="16.67" fill="#262626" text-anchor="middle">False positive rate</text>
<text transform="translate(631.3 602.15) rotate(-90)" x="0" y="0" font-size="16.67" fill="#262626" text-anchor="middle">True positive rate</text>
<g clip-path="url(#c4)">
<path d="M695.6 739.3L1118.1 464.9" stroke="#000000" stroke-width="2.08" stroke-dasharray="7.7 3.33" fill="none"/>
<path d="M695.4 739.3L696.5 717.7L697 705L701.2 694.4L705.4 679.6L707.5 673.2L711.8 669L717.1 655.2L721.3 648.9L724.5 645.7L728.3 636.8L730.8 630.8L734 621.7L739.3 615L744.6 607.5L748.9 599.1L749.9 594.4L752 586.7L756.8 581L767 570.8L776.4 562.1L784.7 553.1L796.7 544.4L801.1 536.7L803.2 532.7L806.7 528.6L809 524.5L811.3 521L813.7 519.3L816 515.2L818.3 512.8L820.7 508.2L821 502.3L827.1 493.4L848.2 489.5L867.5 484.7L880 484.3L895.6 484.1L901.7 481.3L936.3 475.4L961.3 474.8L977.5 472.6L1031.7 467.2L1118.4 465" stroke="#FF0000" stroke-width="1.39" fill="none" stroke-linejoin="round"/>
<path d="M700.54 679.6H710.26M705.4 674.74V684.46" stroke="#FF0000" stroke-width="1.39" fill="none"/>
<path d="M712.24 655.2H721.96M717.1 650.34V660.06" stroke="#FF0000" stroke-width="1.39" fill="none"/>
<path d="M723.44 636.8H733.16M728.3 631.94V641.66" stroke="#FF0000" stroke-width="1.39" fill="none"/>
<path d="M729.14 621.7H738.86M734 616.84V626.56" stroke="#FF0000" stroke-width="1.39" fill="none"/>
<path d="M739.74 607.5H749.46M744.6 602.64V612.36" stroke="#FF0000" stroke-width="1.39" fill="none"/>
<path d="M745.04 594.4H754.76M749.9 589.54V599.26" stroke="#FF0000" stroke-width="1.39" fill="none"/>
<path d="M751.94 581H761.66M756.8 576.14V585.86" stroke="#FF0000" stroke-width="1.39" fill="none"/>
<path d="M762.14 570.8H771.86M767 565.94V575.66" stroke="#FF0000" stroke-width="1.39" fill="none"/>
<path d="M771.54 562.1H781.26M776.4 557.24V566.96" stroke="#FF0000" stroke-width="1.39" fill="none"/>
<path d="M779.84 553.1H789.56M784.7 548.24V557.96" stroke="#FF0000" stroke-width="1.39" fill="none"/>
<path d="M791.84 544.4H801.56M796.7 539.54V549.26" stroke="#FF0000" stroke-width="1.39" fill="none"/>
<path d="M796.24 536.7H805.96M801.1 531.84V541.56" stroke="#FF0000" stroke-width="1.39" fill="none"/>
<path d="M798.34 532.7H808.06M803.2 527.84V537.56" stroke="#FF0000" stroke-width="1.39" fill="none"/>
<path d="M801.84 528.6H811.56M806.7 523.74V533.46" stroke="#FF0000" stroke-width="1.39" fill="none"/>
<path d="M804.14 524.5H813.86M809 519.64V529.36" stroke="#FF0000" stroke-width="1.39" fill="none"/>
<path d="M806.44 521H816.16M811.3 516.14V525.86" stroke="#FF0000" stroke-width="1.39" fill="none"/>
<path d="M808.84 519.3H818.56M813.7 514.44V524.16" stroke="#FF0000" stroke-width="1.39" fill="none"/>
<path d="M811.14 515.2H820.86M816 510.34V520.06" stroke="#FF0000" stroke-width="1.39" fill="none"/>
<path d="M813.44 512.8H823.16M818.3 507.94V517.66" stroke="#FF0000" stroke-width="1.39" fill="none"/>
<path d="M815.84 508.2H825.56M820.7 503.34V513.06" stroke="#FF0000" stroke-width="1.39" fill="none"/>
<path d="M820.44 493.6H830.16M825.3 488.74V498.46" stroke="#FF0000" stroke-width="1.39" fill="none"/>
<path d="M890.74 484.1H900.46M895.6 479.24V488.96" stroke="#FF0000" stroke-width="1.39" fill="none"/>
<path d="M956.44 474.8H966.16M961.3 469.94V479.66" stroke="#FF0000" stroke-width="1.39" fill="none"/>
<path d="M695.4 739.3L696 700L698 660L701 625L705 608L709.7 599.1L716.8 587.2L720.8 578.3L725.3 570.4L730.9 565.9L735.9 564.3L741.5 561.5L747.7 553.6L754.4 545.8L760 543.5L766.7 534.6L777.2 525.7L790.5 517.4L805.9 509.7L812.6 506.5L829 499.2L838.6 497.2L872.7 489.5L886.7 484.7L901.7 480.2L934.2 474.8L999.2 469.3L1117.7 465" stroke="#0000FF" stroke-width="1.39" fill="none" stroke-linejoin="round" stroke-dasharray="5.14 2.22"/>
<rect x="690.54" y="734.44" width="9.72" height="9.72" fill="#0000FF" stroke="#0000FF" stroke-width="1.39" stroke-linejoin="miter"/>
<rect x="704.84" y="594.24" width="9.72" height="9.72" fill="#0000FF" stroke="#0000FF" stroke-width="1.39" stroke-linejoin="miter"/>
<rect x="736.64" y="556.64" width="9.72" height="9.72" fill="#0000FF" stroke="#0000FF" stroke-width="1.39" stroke-linejoin="miter"/>
<rect x="772.34" y="520.84" width="9.72" height="9.72" fill="#0000FF" stroke="#0000FF" stroke-width="1.39" stroke-linejoin="miter"/>
<rect x="807.74" y="501.64" width="9.72" height="9.72" fill="#0000FF" stroke="#0000FF" stroke-width="1.39" stroke-linejoin="miter"/>
<rect x="867.84" y="484.64" width="9.72" height="9.72" fill="#0000FF" stroke="#0000FF" stroke-width="1.39" stroke-linejoin="miter"/>
<rect x="1112.84" y="460.14" width="9.72" height="9.72" fill="#0000FF" stroke="#0000FF" stroke-width="1.39" stroke-linejoin="miter"/>
<path d="M695.4 739.3L695.8 690L697 650L699 630L702 612L708 596L714.3 590.5L725 568L731 561.5L745 543L763 528L780.9 517.4L798.2 507.8L817.4 498.2L844.4 494.3L867.5 487.6L880 483.4L932 476.9L999.2 469.3L1118.4 465" stroke="#FFFF00" stroke-width="1.39" fill="none" stroke-linejoin="round" stroke-dasharray="8.9 2.22 1.39 2.22"/>
<path d="M695.4 734.44L690.54 744.16L700.26 744.16Z" fill="#FFFF00" stroke="#FFFF00" stroke-width="1.39" stroke-linejoin="miter"/>
<path d="M714.3 585.64L709.44 595.36L719.16 595.36Z" fill="#FFFF00" stroke="#FFFF00" stroke-width="1.39" stroke-linejoin="miter"/>
<path d="M731 556.64L726.14 566.36L735.86 566.36Z" fill="#FFFF00" stroke="#FFFF00" stroke-width="1.39" stroke-linejoin="miter"/>
<path d="M745 538.14L740.14 547.86L749.86 547.86Z" fill="#FFFF00" stroke="#FFFF00" stroke-width="1.39" stroke-linejoin="miter"/>
<path d="M763 523.14L758.14 532.86L767.86 532.86Z" fill="#FFFF00" stroke="#FFFF00" stroke-width="1.39" stroke-linejoin="miter"/>
<path d="M798.2 502.94L793.34 512.66L803.06 512.66Z" fill="#FFFF00" stroke="#FFFF00" stroke-width="1.39" stroke-linejoin="miter"/>
<path d="M844.4 489.44L839.54 499.16L849.26 499.16Z" fill="#FFFF00" stroke="#FFFF00" stroke-width="1.39" stroke-linejoin="miter"/>
<path d="M932 472.04L927.14 481.76L936.86 481.76Z" fill="#FFFF00" stroke="#FFFF00" stroke-width="1.39" stroke-linejoin="miter"/>
<path d="M695.4 739.3L695.9 683.2L697 645.7L701.2 618.1L703.3 603.3L708 590L712.8 582.1L719.3 571.3L724.1 561.3L738.5 543.4L749.1 532.8L765.5 521.3L777 515.5L791.5 507.8L805.9 501.1L821.3 497.2L838.6 492.4L867.5 484.7L906 477L933.1 473.2L1020.8 467.2L1118.4 465" stroke="#008000" stroke-width="1.39" fill="none" stroke-linejoin="round" stroke-dasharray="1.39 2.29"/>
<path d="M700.26 739.3L690.54 734.44L690.54 744.16Z" fill="#008000" stroke="#008000" stroke-width="1.39" stroke-linejoin="miter"/>
<path d="M700.76 683.2L691.04 678.34L691.04 688.06Z" fill="#008000" stroke="#008000" stroke-width="1.39" stroke-linejoin="miter"/>
<path d="M701.86 645.7L692.14 640.84L692.14 650.56Z" fill="#008000" stroke="#008000" stroke-width="1.39" stroke-linejoin="miter"/>
<path d="M706.06 618.1L696.34 613.24L696.34 622.96Z" fill="#008000" stroke="#008000" stroke-width="1.39" stroke-linejoin="miter"/>
<path d="M708.16 603.3L698.44 598.44L698.44 608.16Z" fill="#008000" stroke="#008000" stroke-width="1.39" stroke-linejoin="miter"/>
<path d="M717.36 582.9L707.64 578.04L707.64 587.76Z" fill="#008000" stroke="#008000" stroke-width="1.39" stroke-linejoin="miter"/>
<path d="M728.96 561.3L719.24 556.44L719.24 566.16Z" fill="#008000" stroke="#008000" stroke-width="1.39" stroke-linejoin="miter"/>
<path d="M743.36 543.4L733.64 538.54L733.64 548.26Z" fill="#008000" stroke="#008000" stroke-width="1.39" stroke-linejoin="miter"/>
<path d="M753.96 532.8L744.24 527.94L744.24 537.66Z" fill="#008000" stroke="#008000" stroke-width="1.39" stroke-linejoin="miter"/>
<path d="M770.36 521.3L760.64 516.44L760.64 526.16Z" fill="#008000" stroke="#008000" stroke-width="1.39" stroke-linejoin="miter"/>
<path d="M796.36 507.8L786.64 502.94L786.64 512.66Z" fill="#008000" stroke="#008000" stroke-width="1.39" stroke-linejoin="miter"/>
<path d="M826.16 497.2L816.44 492.34L816.44 502.06Z" fill="#008000" stroke="#008000" stroke-width="1.39" stroke-linejoin="miter"/>
<path d="M872.36 484.7L862.64 479.84L862.64 489.56Z" fill="#008000" stroke="#008000" stroke-width="1.39" stroke-linejoin="miter"/>
<path d="M937.96 473.2L928.24 468.34L928.24 478.06Z" fill="#008000" stroke="#008000" stroke-width="1.39" stroke-linejoin="miter"/>
<path d="M1025.66 467.2L1015.94 462.34L1015.94 472.06Z" fill="#008000" stroke="#008000" stroke-width="1.39" stroke-linejoin="miter"/>
<path d="M695.4 739.3L695.5 691.2L695.9 669L697 652L698.4 636.8L701.2 616L703.9 603.9L708.4 590.2L714.8 576.2L727 555.6L735.1 545.9L741.8 538L754.5 527.1L768.4 518.4L784.1 510.7L808.4 500.5L837.7 490.5L877.1 481.3L880 480.8L924 473.7L999.2 468.3L1118.4 465" stroke="#800080" stroke-width="1.39" fill="none" stroke-linejoin="round" stroke-dasharray="1.39 2.29"/>
<circle cx="695.4" cy="739.3" r="4.86" fill="#800080" stroke="#800080" stroke-width="1.39"/>
<circle cx="695.5" cy="691.2" r="4.86" fill="#800080" stroke="#800080" stroke-width="1.39"/>
<circle cx="695.9" cy="669" r="4.86" fill="#800080" stroke="#800080" stroke-width="1.39"/>
<circle cx="697" cy="652" r="4.86" fill="#800080" stroke="#800080" stroke-width="1.39"/>
<circle cx="698.4" cy="636.8" r="4.86" fill="#800080" stroke="#800080" stroke-width="1.39"/>
<circle cx="701.2" cy="616" r="4.86" fill="#800080" stroke="#800080" stroke-width="1.39"/>
<circle cx="703.9" cy="603.9" r="4.86" fill="#800080" stroke="#800080" stroke-width="1.39"/>
<circle cx="708.4" cy="590.2" r="4.86" fill="#800080" stroke="#800080" stroke-width="1.39"/>
<circle cx="714.8" cy="576.2" r="4.86" fill="#800080" stroke="#800080" stroke-width="1.39"/>
<circle cx="727" cy="555.6" r="4.86" fill="#800080" stroke="#800080" stroke-width="1.39"/>
<circle cx="735.1" cy="545.9" r="4.86" fill="#800080" stroke="#800080" stroke-width="1.39"/>
<circle cx="741.8" cy="538" r="4.86" fill="#800080" stroke="#800080" stroke-width="1.39"/>
<circle cx="754.5" cy="527.1" r="4.86" fill="#800080" stroke="#800080" stroke-width="1.39"/>
<circle cx="768.4" cy="518.4" r="4.86" fill="#800080" stroke="#800080" stroke-width="1.39"/>
<circle cx="784.1" cy="510.7" r="4.86" fill="#800080" stroke="#800080" stroke-width="1.39"/>
<circle cx="808.4" cy="500.5" r="4.86" fill="#800080" stroke="#800080" stroke-width="1.39"/>
<circle cx="837.7" cy="490.5" r="4.86" fill="#800080" stroke="#800080" stroke-width="1.39"/>
<circle cx="877.1" cy="481.3" r="4.86" fill="#800080" stroke="#800080" stroke-width="1.39"/>
<circle cx="924" cy="473.7" r="4.86" fill="#800080" stroke="#800080" stroke-width="1.39"/>
<circle cx="999.2" cy="468.3" r="4.86" fill="#800080" stroke="#800080" stroke-width="1.39"/>
</g>
<rect x="1043.2" y="632.7" width="88" height="112.5" rx="3.06" ry="3.06" fill="#EAEAF2" fill-opacity="1" stroke="#CCCCCC" stroke-width="1.39"/>
<path d="M1048.9 644.5H1080.7" stroke="#FF0000" stroke-width="1.39" fill="none"/>
<path d="M1059.94 644.5H1069.66M1064.8 639.64V649.36" stroke="#FF0000" stroke-width="1.39" fill="none"/>
<text x="1091.7" y="649.75" font-size="15.28" fill="#262626">SGD</text>
<path d="M1048.9 666.05H1080.7" stroke="#0000FF" stroke-width="1.39" fill="none" stroke-dasharray="5.14 2.22"/>
<rect x="1059.94" y="661.19" width="9.72" height="9.72" fill="#0000FF" stroke="#0000FF" stroke-width="1.39" stroke-linejoin="miter"/>
<text x="1091.7" y="671.3" font-size="15.28" fill="#262626">RF</text>
<path d="M1048.9 687.6H1080.7" stroke="#FFFF00" stroke-width="1.39" fill="none" stroke-dasharray="8.9 2.22 1.39 2.22"/>
<path d="M1064.8 682.74L1059.94 692.46L1069.66 692.46Z" fill="#FFFF00" stroke="#FFFF00" stroke-width="1.39" stroke-linejoin="miter"/>
<text x="1091.7" y="692.85" font-size="15.28" fill="#262626">GBT</text>
<path d="M1048.9 709.15H1080.7" stroke="#008000" stroke-width="1.39" fill="none" stroke-dasharray="1.39 2.29"/>
<path d="M1069.66 709.15L1059.94 704.29L1059.94 714.01Z" fill="#008000" stroke="#008000" stroke-width="1.39" stroke-linejoin="miter"/>
<text x="1091.7" y="714.4" font-size="15.28" fill="#262626">AB</text>
<path d="M1048.9 730.7H1080.7" stroke="#800080" stroke-width="1.39" fill="none" stroke-dasharray="1.39 2.29"/>
<circle cx="1064.8" cy="730.7" r="4.86" fill="#800080" stroke="#800080" stroke-width="1.39"/>
<text x="1091.7" y="735.95" font-size="15.28" fill="#262626">VT</text>
</svg>
</body></html>
